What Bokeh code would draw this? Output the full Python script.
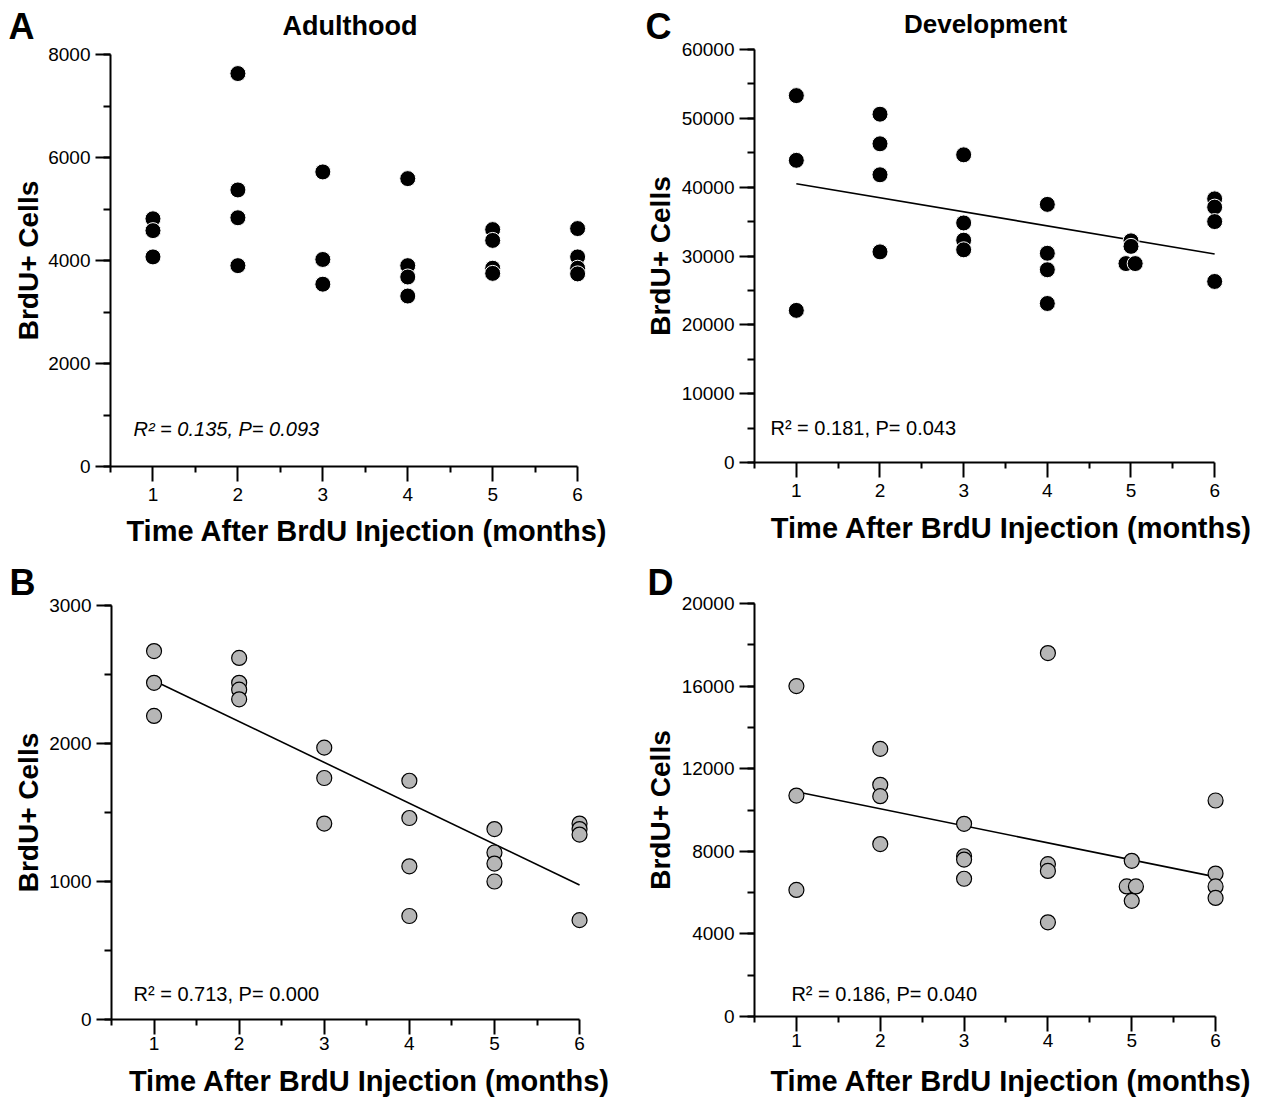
from math import pi
from bokeh.plotting import figure
from bokeh.layouts import column, row
from bokeh.models import FixedTicker, Label, Range1d
from bokeh.embed import file_html
from bokeh.resources import INLINE

# ---------------- data ----------------
months = [1, 2, 3, 4, 5, 6]
month_minor = [0.5, 1.5, 2.5, 3.5, 4.5, 5.5]

# A: Adulthood, total BrdU+ cells
adult_a_x = [1, 1, 1, 2, 2, 2, 2, 3, 3, 3, 4, 4, 4, 4, 5, 5, 5, 5, 6, 6, 6, 6]
adult_a_y = [4810, 4580, 4070, 7630, 5370, 4830, 3900, 5720, 4020, 3540,
             5590, 3900, 3680, 3310, 4600, 4390, 3850, 3750, 4620, 4070, 3850, 3740]

# B: Adulthood, second measure
adult_b_x = [1, 1, 1, 2, 2, 2, 2, 3, 3, 3, 4, 4, 4, 4, 5, 5, 5, 5, 6, 6, 6, 6]
adult_b_y = [2670, 2440, 2200, 2620, 2440, 2390, 2320, 1970, 1750, 1420,
             1730, 1460, 1110, 750, 1380, 1210, 1130, 1000, 1420, 1380, 1340, 720]

# C: Development, total BrdU+ cells
dev_c_x = [1, 1, 1, 2, 2, 2, 2, 3, 3, 3, 3, 4, 4, 4, 4, 5, 5, 4.94, 5.05, 6, 6, 6, 6]
dev_c_y = [53300, 43900, 22100, 50600, 46300, 41800, 30600, 44700, 34800, 32300, 30900,
           37500, 30400, 28000, 23100, 32200, 31400, 28900, 28900, 38300, 37100, 35000, 26300]

# D: Development, second measure
dev_d_x = [1, 1, 1, 2, 2, 2, 2, 3, 3, 3, 3, 4, 4, 4, 4, 5, 4.94, 5.05, 5, 6, 6, 6, 6]
dev_d_y = [16000, 10700, 6130, 12960, 11220, 10670, 8350, 9330, 7760, 7600, 6670,
           17600, 7380, 7050, 4560, 7540, 6300, 6300, 5600, 10460, 6920, 6300, 5740]

# regression lines (values at month 1 and month 6)
fit_x = [1, 6]
fit_b = [2455, 975]
fit_c = [40500, 30300]
fit_d = [10880, 6760]

stat_a = "R² = 0.135, P= 0.093"
stat_b = "R² = 0.713, P= 0.000"
stat_c = "R² = 0.181, P= 0.043"
stat_d = "R² = 0.186, P= 0.040"

panel_letters = ["A", "B", "C", "D"]
panel_titles = ["Adulthood", "Development"]
x_title = "Time After BrdU Injection (months)"
y_title = "BrdU+ Cells"

FONT = "Liberation Sans"


def text_strip(w, h, x0=0, fw=None):
    """Text-only figure; data coords equal local canvas pixels.
    When stacked in a column with a panel, its frame is aligned to the
    panel's frame, so its x range is set to that frame's pixel span."""
    fw = w if fw is None else fw
    f = figure(width=w, height=h, x_range=Range1d(x0, x0 + fw),
               y_range=Range1d(h, 0), output_backend="svg",
               toolbar_location=None, min_border=0,
               x_axis_location=None, y_axis_location=None)
    f.outline_line_color = None
    f.grid.visible = False
    return f


def add_text(f, x, y, text, size, style="bold", angle=0.0):
    f.add_layout(Label(x=x, y=y, text=text, text_font=FONT,
                       text_font_style=style, text_font_size=size,
                       text_align="center", text_baseline="middle",
                       angle=angle, text_color="black"))


def make_panel(g, xs, ys, y_end, y_major, y_minor, dark, fit=None, stat="",
               stat_italic=False, stat_pos=None):
    right = g["w"] - g["left"] - g["fw"]
    bottom = g["h"] - g["top"] - g["fh"]
    x_end = 0.5 + g["fw"] / g["ppm"]
    p = figure(width=g["w"], height=g["h"], x_range=Range1d(0.5, x_end),
               y_range=Range1d(0, y_end), output_backend="svg",
               toolbar_location=None, min_border_left=g["left"],
               min_border_right=right, min_border_top=g["top"],
               min_border_bottom=bottom)
    p.outline_line_color = None
    p.grid.visible = False

    fl = g["left"]
    fb = g["top"] + g["fh"]
    sx = g["ppm"]
    sy = g["fh"] / y_end

    xa = p.xaxis[0]
    xa.ticker = FixedTicker(ticks=months, minor_ticks=month_minor)
    xa.bounds = (0.5, 6)
    xa.axis_line_width = 2
    xa.major_tick_line_width = 2
    xa.minor_tick_line_width = 2
    xa.major_tick_out = 15
    xa.major_tick_in = 0
    xa.minor_tick_out = 6
    xa.minor_tick_in = 0
    xa.major_label_standoff = g["xstand"]
    xa.major_label_text_font = FONT
    xa.major_label_text_font_size = "19px"
    xa.major_label_text_color = "black"

    ya = p.yaxis[0]
    ya.ticker = FixedTicker(ticks=list(range(0, y_end + 1, y_major)),
                            minor_ticks=list(range(0, y_end + 1, y_minor)))
    ya.bounds = (0, y_end)
    ya.axis_line_width = 2
    ya.major_tick_line_width = 2
    ya.minor_tick_line_width = 2
    ya.major_tick_out = 15
    ya.major_tick_in = 0
    ya.minor_tick_out = 7
    ya.minor_tick_in = 0
    ya.major_label_standoff = 5
    ya.major_label_text_font = FONT
    ya.major_label_text_font_size = "19px"
    ya.major_label_text_color = "black"

    if fit is not None:
        p.line(fit_x, fit, line_color="black", line_width=1.6)

    if dark:
        p.scatter(xs, ys, size=16, fill_color="black", line_color="white",
                  line_width=1)
    else:
        p.scatter(xs, ys, size=15, fill_color="#b6b6b6", line_color="black",
                  line_width=1.2)

    # statistics text inside the frame (local pixel -> data)
    lx = 0.5 + (stat_pos[0] - fl) / sx
    ly = (fb - stat_pos[1]) / sy
    p.add_layout(Label(x=lx, y=ly, text=stat, text_font=FONT,
                       text_font_style="italic" if stat_italic else "normal",
                       text_font_size="20px", text_align="left",
                       text_baseline="middle", text_color="black"))
    return p


# panel geometry (local pixels); ppm = pixels per month
gA = dict(w=595, h=471, left=64, top=11, fw=502, fh=412, ppm=85.1, xstand=6)
gC = dict(w=592, h=472, left=74, top=11, fw=502, fh=413, ppm=84.0, xstand=6)
gB = dict(w=595, h=514, left=66, top=55, fw=502, fh=414, ppm=85.1, xstand=2)
gD = dict(w=592, h=514, left=75, top=53, fw=502, fh=413, ppm=84.0, xstand=2)

pA = make_panel(gA, adult_a_x, adult_a_y, 8000, 2000, 1000, True,
                stat=stat_a, stat_italic=True, stat_pos=(87, 385))
pC = make_panel(gC, dev_c_x, dev_c_y, 60000, 10000, 5000, True, fit=fit_c,
                stat=stat_c, stat_pos=(90, 389))
pB = make_panel(gB, adult_b_x, adult_b_y, 3000, 1000, 500, False, fit=fit_b,
                stat=stat_b, stat_pos=(88, 443))
pD = make_panel(gD, dev_d_x, dev_d_y, 20000, 4000, 2000, False, fit=fit_d,
                stat=stat_d, stat_pos=(112, 443))

# left strips: panel letters and rotated y titles
stripA = text_strip(45, 550)
add_text(stripA, 21, 25.5, panel_letters[0], "36px")
add_text(stripA, 28, 260, y_title, "28px", angle=pi / 2)

stripC = text_strip(38, 550)
add_text(stripC, 18, 25.5, panel_letters[2], "36px")
add_text(stripC, 20, 255.5, y_title, "28px", angle=pi / 2)

stripB = text_strip(45, 547)
add_text(stripB, 22, 31.5, panel_letters[1], "36px")
add_text(stripB, 28, 262, y_title, "28px", angle=pi / 2)

stripD = text_strip(38, 547)
add_text(stripD, 20, 31.5, panel_letters[3], "36px")
add_text(stripD, 20, 259.5, y_title, "28px", angle=pi / 2)

# headers (titles) and footers (x titles); frames align with the panels
headA = text_strip(595, 43, gA["left"], gA["fw"])
add_text(headA, 304, 25.6, panel_titles[0], "27px")
headC = text_strip(592, 38, gC["left"], gC["fw"])
add_text(headC, 306, 23, panel_titles[1], "26px")

footA = text_strip(595, 36, gA["left"], gA["fw"])
add_text(footA, 321, 16.5, x_title, "29px")
footC = text_strip(592, 40, gC["left"], gC["fw"])
add_text(footC, 332, 17.5, x_title, "29px")
footB = text_strip(595, 33, gB["left"], gB["fw"])
add_text(footB, 324, 16.5, x_title, "29px")
footD = text_strip(592, 33, gD["left"], gD["fw"])
add_text(footD, 332, 16.5, x_title, "29px")

top_half = row(stripA, column(headA, pA, footA), stripC, column(headC, pC, footC))
bottom_half = row(stripB, column(pB, footB), stripD, column(pD, footD))
layout = column(top_half, bottom_half)

open("out.html", "w").write(file_html(layout, INLINE))
